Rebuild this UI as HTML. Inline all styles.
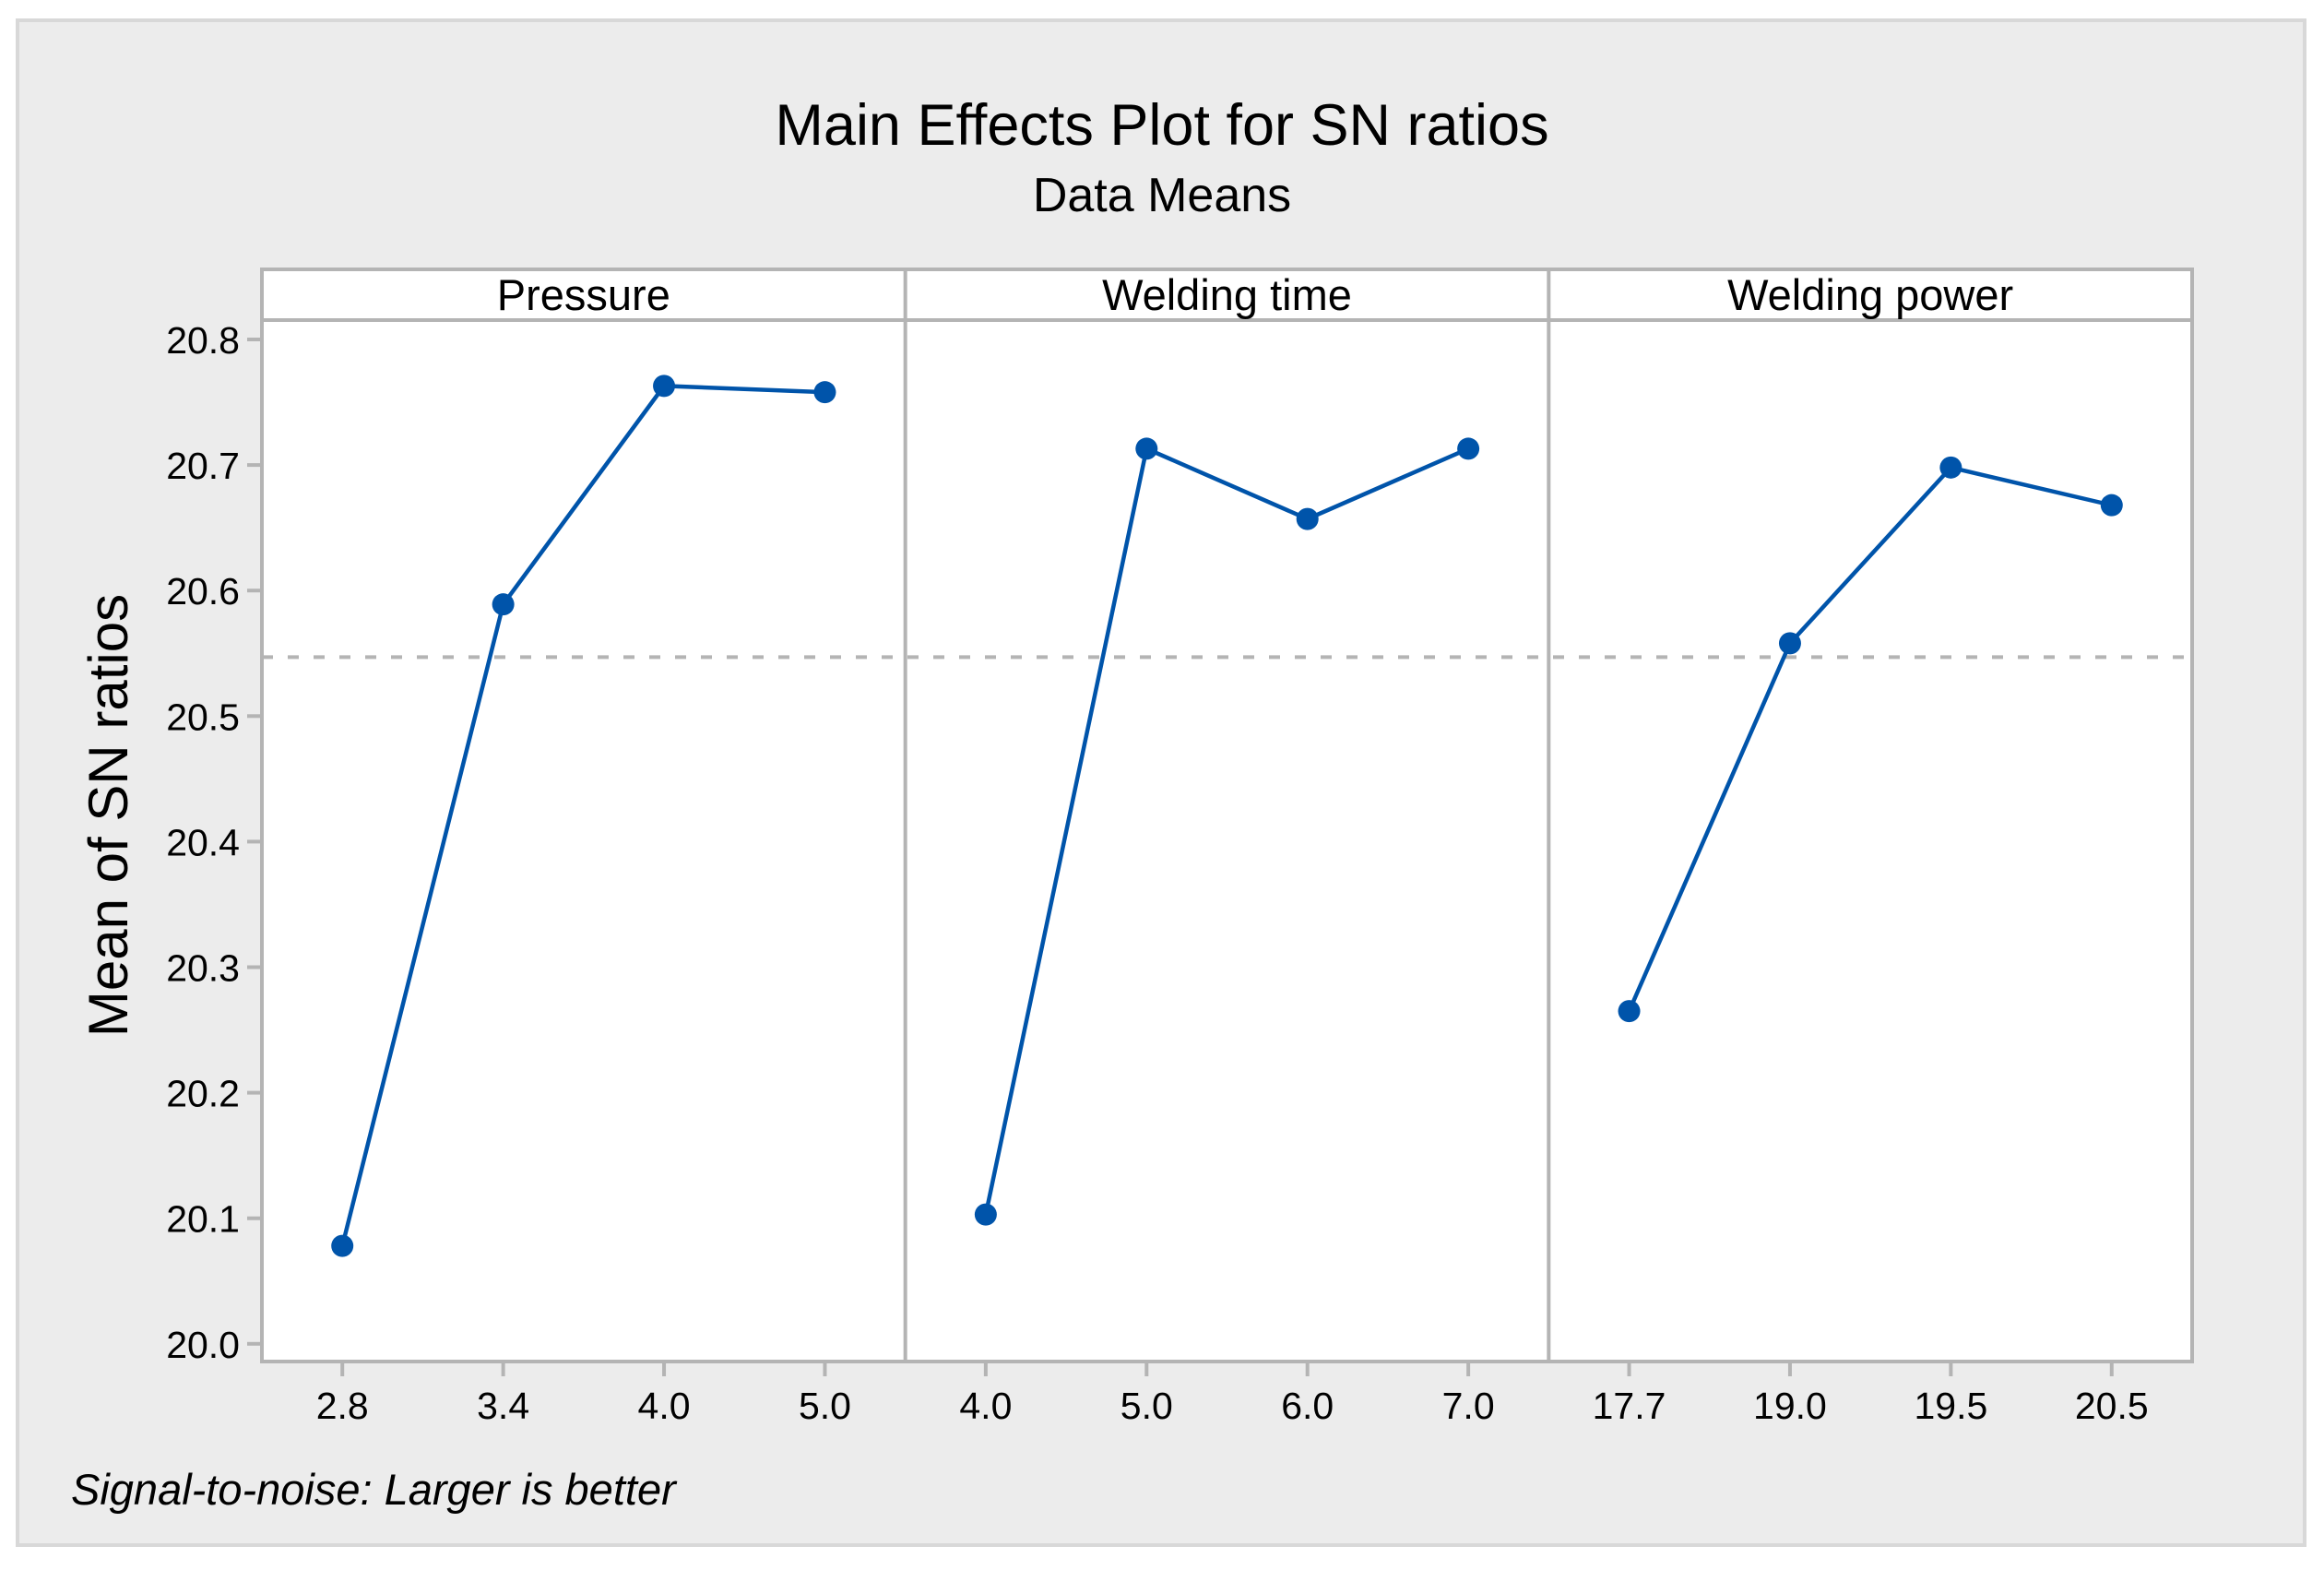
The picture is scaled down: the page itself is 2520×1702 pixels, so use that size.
<!DOCTYPE html>
<html><head><meta charset="utf-8"><style>
html,body{margin:0;padding:0;background:#fff;}
svg{display:block;font-family:"Liberation Sans",sans-serif;}
</style></head><body>
<svg id="chart" width="2520" height="1702" viewBox="0 0 2520 1702">
<rect x="19" y="22" width="2480" height="1653" fill="#ececec" stroke="#d8d8d8" stroke-width="4"/>
<text x="1260" y="157" font-size="63" text-anchor="middle" fill="#000">Main Effects Plot for SN ratios</text>
<text x="1260" y="229" font-size="52" text-anchor="middle" fill="#000">Data Means</text>
<text transform="translate(138,884) rotate(-90)" font-size="60" text-anchor="middle" fill="#000">Mean of SN ratios</text>
<text x="77" y="1631" font-size="47" font-style="italic" fill="#000">Signal-to-noise: Larger is better</text>
<g id="plot"></g>
</svg>
<script>
const panelNames = ["Pressure", "Welding time", "Welding power"];
const levelLabels = [["2.8","3.4","4.0","5.0"],["4.0","5.0","6.0","7.0"],["17.7","19.0","19.5","20.5"]];
const pressureMeans = [20.078, 20.589, 20.763, 20.758];
const timeMeans = [20.103, 20.713, 20.657, 20.713];
const powerMeans = [20.265, 20.558, 20.698, 20.668];
const yTicks = [20.0, 20.1, 20.2, 20.3, 20.4, 20.5, 20.6, 20.7, 20.8];
const grandMean = 20.547;

const series = [pressureMeans, timeMeans, powerMeans];
const NS = "http://www.w3.org/2000/svg";
const g = document.getElementById("plot");
const L = 284, T = 292, R = 2377, B = 1476, stripB = 347;
const pw = (R - L) / 3;
const yScale = v => 368 + (20.8 - v) * 1361;
const xScale = (p, i) => L + p * pw + (i + 0.5) * pw / 4;
function mk(tag, attrs) { const e = document.createElementNS(NS, tag); for (const k in attrs) e.setAttribute(k, attrs[k]); g.appendChild(e); return e; }

let e = mk("rect", {x: L, y: T, width: R - L, height: B - T, fill: "#fff", stroke: "#b4b4b4", "stroke-width": 4});


e = mk("line", {x1: L, x2: R, y1: stripB, y2: stripB, stroke: "#b4b4b4", "stroke-width": 4});


for (let p = 1; p < 3; p++) {
  e = mk("line", {x1: L + p * pw, x2: L + p * pw, y1: T, y2: B, stroke: "#b4b4b4", "stroke-width": 4});
  
  
}
yTicks.forEach(v => {
  const y = yScale(v);
  e = mk("line", {x1: 268, x2: L, y1: y, y2: y, stroke: "#b4b4b4", "stroke-width": 4});
  
  
  e = mk("text", {x: 260, y: y + 15, "font-size": 41, "text-anchor": "end", fill: "#000"});
  e.textContent = v.toFixed(1);
  
  
});
e = mk("line", {x1: L, x2: R, y1: yScale(grandMean), y2: yScale(grandMean), stroke: "#b4b4b4", "stroke-width": 4, "stroke-dasharray": "12 16"});


series.forEach((vals, p) => {
  e = mk("text", {x: L + p * pw + pw / 2, y: T + 44, "font-size": 47, "text-anchor": "middle", fill: "#000"});
  e.textContent = panelNames[p];
  
  
  levelLabels[p].forEach((lab, i) => {
    const x = xScale(p, i);
    e = mk("line", {x1: x, x2: x, y1: B, y2: B + 16, stroke: "#b4b4b4", "stroke-width": 4});
    
    
    e = mk("text", {x: x, y: B + 62, "font-size": 41, "text-anchor": "middle", fill: "#000"});
    e.textContent = lab;
    
    
  });
  const pts = vals.map((v, i) => xScale(p, i) + "," + yScale(v)).join(" ");
  e = mk("polyline", {points: pts, fill: "none", stroke: "#0054aa", "stroke-width": 4.5});
  
  
  vals.forEach((v, i) => {
    e = mk("circle", {cx: xScale(p, i), cy: yScale(v), r: 12, fill: "#0054aa"});
    
    
  });
});
</script>
</body></html>
